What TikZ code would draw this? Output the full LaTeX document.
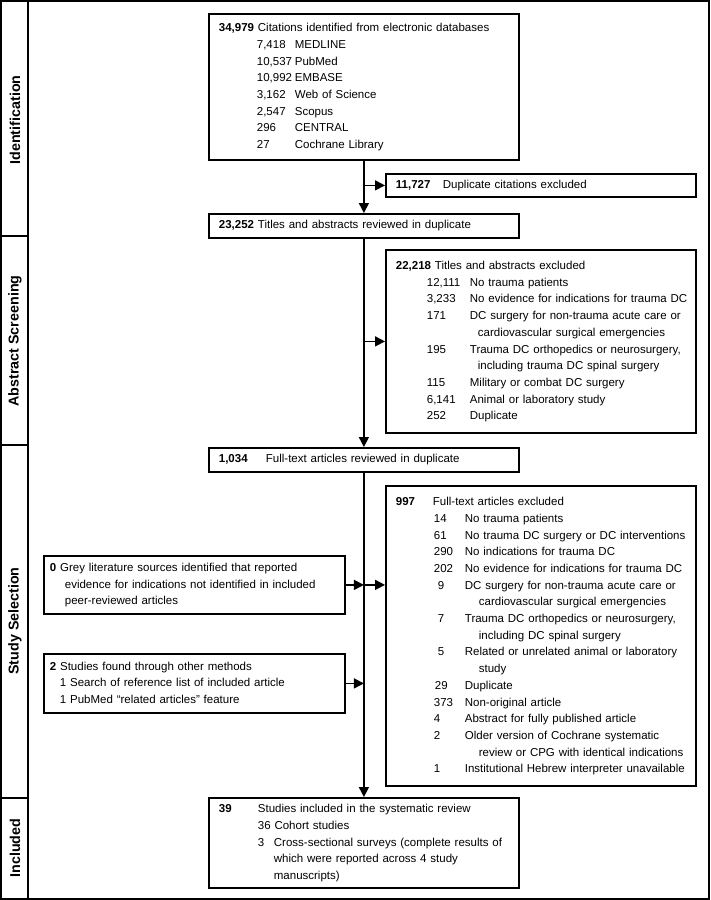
\documentclass[tikz,border=0pt]{standalone}
\usepackage{fontspec}
\setmainfont{Liberation Sans}
\usepackage{tikz}
\usetikzlibrary{arrows.meta}
\definecolor{prismaInk}{HTML}{000000}
\tikzset{
  flowBox/.style={
    rectangle,
    draw=prismaInk,
    line width=1.8pt,
    anchor=north west,
    inner xsep=10pt,
    inner ysep=0pt,
    align=left,
    font=\fontsize{11.5}{16.7}\selectfont
  },
  sideBox/.style={
    flowBox,
    inner xsep=6pt
  },
  stageLabel/.style={
    rotate=90,
    inner sep=0pt,
    font=\fontsize{14.3}{16}\selectfont\bfseries
  },
  arrow/.style={
    -{Triangle[length=10pt,width=10pt]},
    line width=1.6pt,
    draw=prismaInk
  },
  frameLine/.style={
    line width=2pt,
    draw=prismaInk
  }
}
\newcommand{\countItem}[3]{\hspace*{#1}\makebox[#2][l]{#3}}

\begin{document}
\begin{tikzpicture}[x=1pt,y=-1pt]
  \useasboundingbox (0,0) rectangle (710,900);
  \draw[frameLine] (1,1) rectangle (709,899);
  \draw[frameLine] (28,1) -- (28,899);
  \draw[frameLine] (1,236) -- (28,236);
  \draw[frameLine] (1,445) -- (28,445);
  \draw[frameLine] (1,798) -- (28,798);
  \node[stageLabel] (stageIdent) at (15,120) {Identification};
  \node[stageLabel] (stageAbstract) at (15,341) {Abstract Screening};
  \node[stageLabel] (stageSelect) at (15,621) {Study Selection};
  \node[stageLabel] (stageIncl) at (15,848) {Included};

  \node[flowBox,minimum width=310pt,minimum height=146pt,text width=290pt] (search) at (208,13) {%
    \begin{tabular}{@{}l@{}}
    \textbf{34,979} Citations identified from electronic databases\\
    \countItem{38pt}{38pt}{7,418}MEDLINE\\
    \countItem{38pt}{38pt}{10,537}PubMed\\
    \countItem{38pt}{38pt}{10,992}EMBASE\\
    \countItem{38pt}{38pt}{3,162}Web of Science\\
    \countItem{38pt}{38pt}{2,547}Scopus\\
    \countItem{38pt}{38pt}{296}CENTRAL\\
    \countItem{38pt}{38pt}{27}Cochrane Library
    \end{tabular}};
  \node[flowBox,minimum width=310pt,minimum height=23pt,text width=290pt] (dupes) at (385,173) {%
    \makebox[47pt][l]{\textbf{11,727}}Duplicate citations excluded};
  \node[flowBox,minimum width=310pt,minimum height=24pt,text width=290pt] (screened) at (208,213) {%
    \textbf{23,252} Titles and abstracts reviewed in duplicate};
  \node[flowBox,minimum width=310pt,minimum height=183pt,text width=290pt] (absExcl) at (385,249) {%
    \begin{tabular}{@{}l@{}}
    \textbf{22,218} Titles and abstracts excluded\\
    \countItem{31pt}{43pt}{12,111}No trauma patients\\
    \countItem{31pt}{43pt}{3,233}No evidence for indications for trauma DC\\
    \countItem{31pt}{43pt}{171}DC surgery for non-trauma acute care or\\
    \hspace*{82pt}cardiovascular surgical emergencies\\
    \countItem{31pt}{43pt}{195}Trauma DC orthopedics or neurosurgery,\\
    \hspace*{82pt}including trauma DC spinal surgery\\
    \countItem{31pt}{43pt}{115}Military or combat DC surgery\\
    \countItem{31pt}{43pt}{6,141}Animal or laboratory study\\
    \countItem{31pt}{43pt}{252}Duplicate
    \end{tabular}};
  \node[flowBox,minimum width=310pt,minimum height=24pt,text width=290pt] (fullText) at (208,447) {%
    \makebox[47pt][l]{\textbf{1,034}}Full-text articles reviewed in duplicate};
  \node[flowBox,minimum width=310pt,minimum height=300pt,text width=290pt] (ftExcl) at (385,485) {%
    \begin{tabular}{@{}l@{}}
    \makebox[37pt][l]{\textbf{997}}Full-text articles excluded\\
    \countItem{38pt}{31pt}{14}No trauma patients\\
    \countItem{38pt}{31pt}{61}No trauma DC surgery or DC interventions\\
    \countItem{38pt}{31pt}{290}No indications for trauma DC\\
    \countItem{38pt}{31pt}{202}No evidence for indications for trauma DC\\
    \countItem{42pt}{27pt}{9}DC surgery for non-trauma acute care or\\
    \hspace*{83pt}cardiovascular surgical emergencies\\
    \countItem{42pt}{27pt}{7}Trauma DC orthopedics or neurosurgery,\\
    \hspace*{83pt}including DC spinal surgery\\
    \countItem{42pt}{27pt}{5}Related or unrelated animal or laboratory\\
    \hspace*{83pt}study\\
    \countItem{39pt}{30pt}{29}Duplicate\\
    \countItem{38pt}{31pt}{373}Non-original article\\
    \countItem{38pt}{31pt}{4}Abstract for fully published article\\
    \countItem{38pt}{31pt}{2}Older version of Cochrane systematic\\
    \hspace*{83pt}review or CPG with identical indications\\
    \countItem{38pt}{31pt}{1}Institutional Hebrew interpreter unavailable
    \end{tabular}};
  \node[sideBox,minimum width=301pt,minimum height=58pt,text width=289pt] (greyLit) at (43,555) {%
    \begin{tabular}{@{}l@{}}
    \textbf{0} Grey literature sources identified that reported\\
    \hspace*{15pt}evidence for indications not identified in included\\
    \hspace*{15pt}peer-reviewed articles
    \end{tabular}};
  \node[sideBox,minimum width=301pt,minimum height=59pt,text width=289pt] (otherMethods) at (43,653) {%
    \begin{tabular}{@{}l@{}}
    \textbf{2} Studies found through other methods\\
    \hspace*{10pt}1 Search of reference list of included article\\
    \hspace*{10pt}1 PubMed “related articles” feature
    \end{tabular}};
  \node[flowBox,minimum width=310pt,minimum height=90pt,text width=290pt] (included) at (208,797) {%
    \begin{tabular}{@{}l@{}}
    \makebox[39pt][l]{\textbf{39}}Studies included in the systematic review\\
    \hspace*{39pt}36 Cohort studies\\
    \countItem{39pt}{16pt}{3}Cross-sectional surveys (complete results of\\
    \hspace*{55pt}which were reported across 4 study\\
    \hspace*{55pt}manuscripts)
    \end{tabular}};

  \coordinate (dupJoin) at (search.south |- dupes.west);
  \coordinate (absJoin) at (screened.south |- absExcl.west);
  \coordinate (greyJoin) at (fullText.south |- greyLit.east);
  \coordinate (otherJoin) at (fullText.south |- otherMethods.east);
  \draw[arrow] (search.south) -- (screened.north);
  \draw[arrow] (dupJoin) -- (dupes.west);
  \draw[arrow] (screened.south) -- (fullText.north);
  \draw[arrow] (absJoin) -- (absExcl.west);
  \draw[arrow] (fullText.south) -- (included.north);
  \draw[arrow] (greyLit.east) -- (greyJoin);
  \draw[arrow] (greyJoin) -- (greyJoin -| ftExcl.west);
  \draw[arrow] (otherMethods.east) -- (otherJoin);
\end{tikzpicture}
\end{document}
